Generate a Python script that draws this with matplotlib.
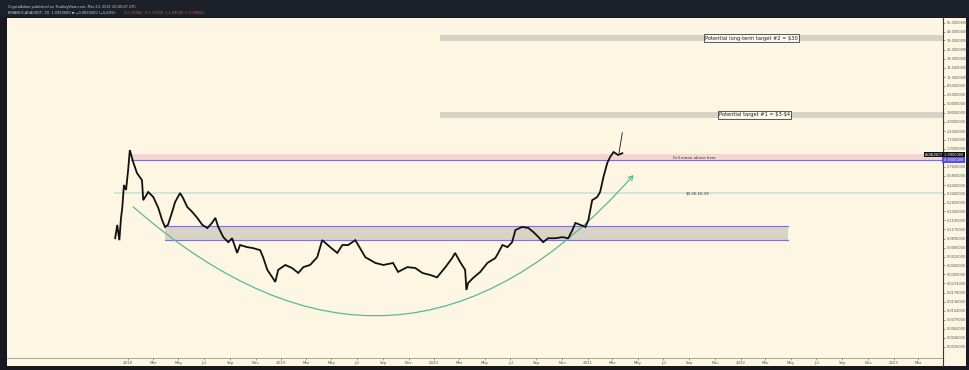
import matplotlib
matplotlib.use("Agg")
import matplotlib.pyplot as plt
import matplotlib.dates as mdates
from matplotlib.patches import Rectangle, FancyArrowPatch
from matplotlib.lines import Line2D
import matplotlib.transforms as mtransforms
import datetime as dt

# ---------------- data ----------------
price_dates = [
    "2017-12-01", "2017-12-06", "2017-12-11", "2017-12-15", "2017-12-18", "2017-12-22", "2017-12-27",
    "2018-01-01", "2018-01-05", "2018-01-13", "2018-01-22", "2018-02-03", "2018-02-06", "2018-02-18",
    "2018-03-02", "2018-03-14", "2018-03-23", "2018-03-30", "2018-04-06", "2018-04-16", "2018-04-23",
    "2018-05-05", "2018-05-12", "2018-05-22", "2018-06-03", "2018-06-15", "2018-06-27", "2018-07-09",
    "2018-07-20", "2018-07-28", "2018-08-04", "2018-08-16", "2018-08-28", "2018-09-06", "2018-09-18",
    "2018-09-25", "2018-10-12", "2018-10-26", "2018-11-12", "2018-11-19", "2018-11-29", "2018-12-11",
    "2018-12-18", "2018-12-25", "2019-01-11", "2019-01-27", "2019-02-11", "2019-02-23", "2019-03-11",
    "2019-03-28", "2019-04-09", "2019-04-28", "2019-05-15", "2019-05-27", "2019-06-10", "2019-06-27",
    "2019-07-21", "2019-08-14", "2019-09-02", "2019-09-25", "2019-10-07", "2019-10-29", "2019-11-17",
    "2019-12-04", "2019-12-23", "2020-01-08", "2020-01-28", "2020-02-13", "2020-02-20", "2020-03-03",
    "2020-03-15", "2020-03-18", "2020-03-22", "2020-04-03", "2020-04-20", "2020-05-07", "2020-05-26",
    "2020-06-02", "2020-06-12", "2020-06-24", "2020-07-05", "2020-07-13", "2020-07-29", "2020-08-13",
    "2020-08-25", "2020-09-06", "2020-09-17", "2020-09-29", "2020-10-16", "2020-11-02", "2020-11-16",
    "2020-11-26", "2020-12-03", "2020-12-15", "2020-12-27", "2021-01-03", "2021-01-12", "2021-01-24",
    "2021-01-31", "2021-02-08", "2021-02-17", "2021-02-24", "2021-03-04", "2021-03-15", "2021-03-25",
]
price_close = [
    0.090, 0.134, 0.085, 0.165, 0.222, 0.441, 0.380,
    0.69, 1.25, 0.875, 0.63, 0.51, 0.28, 0.358,
    0.308, 0.222, 0.155, 0.126, 0.134, 0.197, 0.265,
    0.347, 0.299, 0.229, 0.197, 0.165, 0.134, 0.122,
    0.142, 0.165, 0.126, 0.093, 0.080, 0.090, 0.058,
    0.0735, 0.069, 0.067, 0.063, 0.051, 0.035, 0.028,
    0.0244, 0.035, 0.0405, 0.037, 0.0319, 0.038, 0.0405,
    0.051, 0.085, 0.069, 0.058, 0.0735, 0.0735, 0.085,
    0.051, 0.043, 0.0405, 0.043, 0.0329, 0.038, 0.037,
    0.0319, 0.030, 0.028, 0.038, 0.0498, 0.058, 0.0443,
    0.035, 0.0192, 0.0236, 0.0275, 0.0329, 0.043, 0.0498,
    0.058, 0.0735, 0.069, 0.080, 0.115, 0.126, 0.122,
    0.108, 0.093, 0.080, 0.090, 0.090, 0.093, 0.090,
    0.115, 0.142, 0.134, 0.126, 0.155, 0.28, 0.308,
    0.358, 0.56, 0.85, 1.02, 1.18, 1.08, 1.14,
]
spike_dates = ["2021-03-17", "2021-03-25"]
spike_prices = [1.15, 2.1]

target2_band = (32.4, 38.8)
target1_band = (3.26, 3.90)
fullmoon_zone = (0.93, 1.11)
teal_level = 0.347
box_range = (0.0854, 0.130)

target2_text = "Potential long-term target #2 = $30"
target1_text = "Potential target #1 = $3-$4"
fullmoon_text = "Full moon above here"
teal_text = "$0.36-$0.39"

last_price = 1.095
line_price = 0.93

arc_start = ("2018-01-08", 0.243)
arc_end = ("2021-04-25", 0.63)

ytick_values = [56, 43, 33, 25, 19, 14.5, 11, 8.5, 6.5, 5, 3.8, 2.9, 2.2, 1.7, 1.3,
                0.76, 0.58, 0.44, 0.34, 0.26, 0.2, 0.153, 0.117, 0.089, 0.068, 0.052,
                0.04, 0.0305, 0.0233, 0.0178, 0.0136, 0.0104, 0.0079, 0.006, 0.0046, 0.0035]

header_line1 = "CryptoAdam published on TradingView.com, Mar 23, 2021 20:35:07 UTC"
header_line2a = "BINANCE:ADAUSDT, 1D  1.0950000 \u25bc \u22120.0650000 (\u22125.60%)"
header_line2b = "O:1.16000  H:1.17000  L:1.08000  C:1.09500"

# ---------------- layout ----------------
W, H = 969, 370
CREAM = "#FDF6E3"

def D(s):
    return dt.datetime.strptime(s, "%Y-%m-%d")

fig = plt.figure(figsize=(W / 100, H / 100), dpi=100, facecolor="#17191f")

# header bar
fig.patches.append(Rectangle((0, 1 - 17 / H), 1, 17 / H, transform=fig.transFigure,
                             facecolor="#1c2029", edgecolor="none", zorder=-2))
# cream panel (chart + axis strips)
fig.patches.append(Rectangle((7 / W, 1 - 366 / H), (966 - 7) / W, (366 - 18) / H,
                             transform=fig.transFigure, facecolor=CREAM, edgecolor="none", zorder=-2))

fig.text(8 / W, 1 - 7 / H, header_line1, fontsize=2.5, color="#d0d4dc", va="center", ha="left")
fig.text(8 / W, 1 - 13 / H, header_line2a, fontsize=2.5, color="#d0d4dc", va="center", ha="left")
fig.text(124 / W, 1 - 13 / H, header_line2b, fontsize=2.5, color="#e0525a", va="center", ha="left")

ax = fig.add_axes([7 / W, 1 - 358 / H, (943 - 7) / W, (358 - 18) / H])
ax.set_zorder(2)
ax.set_facecolor(CREAM)
ax.set_yscale("log")
xmin, xmax = D("2017-03-18"), D("2023-04-29")
ax.set_xlim(xmin, xmax)
ax.set_ylim(0.00252, 64.5)

for s in ("top", "left"):
    ax.spines[s].set_visible(False)
ax.spines["right"].set_color("#3a3a3a")
ax.spines["right"].set_linewidth(0.8)
ax.spines["bottom"].set_color("#9a978c")
ax.spines["bottom"].set_linewidth(0.6)

# vertical separator continuing into time-axis strip
fig.add_artist(Line2D([943 / W, 943 / W], [1 - 366 / H, 1 - 358 / H], transform=fig.transFigure,
                      color="#3a3a3a", lw=0.8, zorder=3))

# target bands
t2s = D("2020-01-16")
ax.fill_between([t2s, xmax], target2_band[0], target2_band[1], color="#d7d3c4", lw=0, zorder=1)
ax.fill_between([t2s, xmax], target1_band[0], target1_band[1], color="#d7d3c4", lw=0, zorder=1)
box_kw = dict(boxstyle="square,pad=0.25", fc="#fbf8ee", ec="#3c3c3c", lw=0.6)
ax.text(D("2022-01-27"), (target2_band[0] * target2_band[1]) ** 0.5, target2_text, fontsize=3.7,
        ha="center", va="center", color="#222", bbox=box_kw, zorder=5, parse_math=False)
ax.text(D("2022-02-03"), (target1_band[0] * target1_band[1]) ** 0.5, target1_text, fontsize=3.7,
        ha="center", va="center", color="#222", bbox=box_kw, zorder=5, parse_math=False)

# full-moon zone
fm_start = D("2018-01-08")
ax.fill_between([fm_start, xmax], fullmoon_zone[0], fullmoon_zone[1], color="#f3d6d0", lw=0, zorder=1)
ax.plot([fm_start, xmax], [line_price, line_price], color="#7b70c8", lw=0.8, zorder=2)
ax.text(D("2021-09-13"), 1.0, fullmoon_text, fontsize=2.8, ha="center", va="center", color="#333",
        zorder=5, parse_math=False)

# teal level
ax.plot([D("2017-12-01"), xmax], [teal_level, teal_level], color="#bfe3da", lw=1.1, zorder=1)
ax.text(D("2021-09-20"), teal_level, teal_text, fontsize=2.8, ha="center", va="center", color="#333",
        zorder=5, parse_math=False)

# gray range box
bx0, bx1 = D("2018-03-30"), D("2022-04-25")
ax.fill_between([bx0, bx1], box_range[0], box_range[1], color="#d8d4c5", lw=0, zorder=1)
ax.plot([bx0, bx1], [box_range[1], box_range[1]], color="#7d74c8", lw=0.8, zorder=2)
ax.plot([bx0, bx1], [box_range[0], box_range[0]], color="#7d74c8", lw=0.8, zorder=2)

# price series
ax.plot([D(s) for s in price_dates], price_close, color="#111111", lw=1.3, zorder=4,
        solid_joinstyle="miter")
ax.plot([D(s) for s in spike_dates], spike_prices, color="#111111", lw=0.6, zorder=4)

# green arc
arc = FancyArrowPatch(posA=(mdates.date2num(D(arc_start[0])), arc_start[1]),
                      posB=(mdates.date2num(D(arc_end[0])), arc_end[1]),
                      connectionstyle="arc3,rad=0.5",
                      arrowstyle="->,head_length=3,head_width=1.8",
                      color="#5cb98f", lw=0.9, zorder=3)
ax.add_patch(arc)

# axes ticks
ax.yaxis.tick_right()
ax.set_yticks(ytick_values)
ax.yaxis.set_minor_locator(matplotlib.ticker.NullLocator())
ax.set_yticklabels(["%.7f" % v for v in ytick_values])
ax.tick_params(axis="y", labelsize=2.5, colors="#555555", length=1.5, width=0.4, pad=1.2)

ax.xaxis.set_major_locator(mdates.MonthLocator(bymonth=[1, 3, 5, 7, 9, 11]))
def fmt(x, pos):
    d = mdates.num2date(x)
    return str(d.year) if d.month == 1 else d.strftime("%b")
ax.xaxis.set_major_formatter(matplotlib.ticker.FuncFormatter(fmt))
ax.set_xticks([t for t in ax.get_xticks() if mdates.num2date(t).replace(tzinfo=None) >= D("2018-01-01")])
ax.tick_params(axis="x", labelsize=2.8, colors="#555555", length=1.5, width=0.4, pad=1.0)

# last-price labels
blend = mtransforms.blended_transform_factory(ax.transAxes, ax.transData)
ax.text(1.0, last_price, " 1.0950000 ", transform=blend, fontsize=2.5, color="white", ha="left",
        va="center", bbox=dict(boxstyle="square,pad=0.2", fc="#111111", ec="none"), clip_on=False, zorder=6)
ax.text(1.0, last_price, "ADAUSDT ", transform=blend, fontsize=2.5, color="white", ha="right",
        va="center", bbox=dict(boxstyle="square,pad=0.2", fc="#111111", ec="none"), clip_on=False, zorder=6)
ax.text(1.0, line_price, " 0.9300000 ", transform=blend, fontsize=2.5, color="white", ha="left",
        va="center", bbox=dict(boxstyle="square,pad=0.2", fc="#5a4fe0", ec="none"), clip_on=False, zorder=6)

fig.savefig("out.png", dpi=100, facecolor=fig.get_facecolor())
